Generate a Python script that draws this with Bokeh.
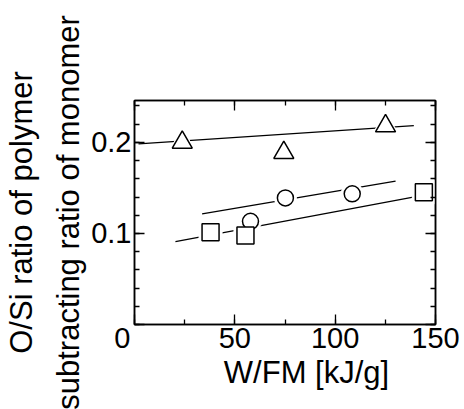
import math
from bokeh.plotting import figure
from bokeh.models import LinearAxis, SingleIntervalTicker, Range1d
from bokeh.embed import file_html
from bokeh.resources import INLINE

# ---- data ----
tri_x = [23.8, 74.4, 125.1]
tri_y = [0.200, 0.1887, 0.218]
cir_x = [57.8, 75.2, 108.5]
cir_y = [0.1133, 0.139, 0.1435]
sq_x = [37.9, 55.3, 144.2]
sq_y = [0.1014, 0.0977, 0.1453]

tri_fit_x = [2.0, 139.2]
tri_fit_y = [0.1984, 0.2185]
cir_fit_x = [33.7, 130.1]
cir_fit_y = [0.1216, 0.1574]
sq_fit_x = [20.4, 144.2]
sq_fit_y = [0.0911, 0.142]

x_lo, x_hi = 0, 150
y_lo, y_hi = 0, 0.246
NB = "\u00a0"
x_title = NB * 5 + "W/FM [kJ/g]"
y_title = "O/Si ratio of polymer\nsubtracting ratio of monomer"

FONT = "Liberation Sans"
TICK_FS = "29px"
TITLE_FS = "31px"

p = figure(width=464, height=409,
           x_range=Range1d(x_lo, x_hi), y_range=Range1d(y_lo, y_hi),
           output_backend="svg", toolbar_location=None,
           min_border_left=134, min_border_right=29,
           min_border_top=100, min_border_bottom=85)
p.xgrid.visible = False
p.ygrid.visible = False
p.outline_line_color = "black"
p.outline_line_width = 1.5
p.background_fill_color = "white"
p.border_fill_color = "white"


def style_axis(ax, ticker, show_labels):
    ax.ticker = ticker
    ax.axis_line_color = "black"
    ax.axis_line_width = 1.5
    ax.major_tick_line_color = "black"
    ax.major_tick_line_width = 1.3
    ax.minor_tick_line_color = "black"
    ax.minor_tick_line_width = 1.3
    ax.major_tick_in = 10
    ax.major_tick_out = 0
    ax.minor_tick_in = 5
    ax.minor_tick_out = 0
    ax.major_label_text_font = FONT
    ax.major_label_text_color = "black"
    if show_labels:
        ax.major_label_text_font_size = TICK_FS
    else:
        ax.major_label_text_font_size = "0px"
    ax.major_label_standoff = 2


xt = SingleIntervalTicker(interval=50, num_minor_ticks=2)
yt = SingleIntervalTicker(interval=0.1, num_minor_ticks=5)

xa = p.xaxis[0]
style_axis(xa, xt, True)
xa.major_label_overrides = {0: "0" + NB * 3}
xa.major_label_standoff = -3
xa.axis_label = x_title
xa.axis_label_text_font = FONT
xa.axis_label_text_font_size = TITLE_FS
xa.axis_label_text_font_style = "normal"
xa.axis_label_text_color = "black"
xa.axis_label_standoff = -2

ya = p.yaxis[0]
style_axis(ya, yt, True)
ya.major_label_overrides = {0: ""}
ya.major_label_standoff = 3
ya.axis_label = y_title
ya.axis_label_text_font = FONT
ya.axis_label_text_font_size = "31px"
ya.axis_label_text_font_style = "normal"
ya.axis_label_text_color = "black"
ya.axis_label_text_line_height = 1.35
ya.axis_label_standoff = 2

top = LinearAxis()
style_axis(top, SingleIntervalTicker(interval=50, num_minor_ticks=2), False)
p.add_layout(top, "above")
right = LinearAxis()
style_axis(right, SingleIntervalTicker(interval=0.1, num_minor_ticks=5), False)
p.add_layout(right, "right")

# fit lines
for fx, fy in [(tri_fit_x, tri_fit_y), (cir_fit_x, cir_fit_y), (sq_fit_x, sq_fit_y)]:
    p.line(fx, fy, line_color="black", line_width=1.3)

# white halos to break lines around markers
p.scatter(tri_x, tri_y, marker="triangle", size=25, fill_color="white", line_color="white")
p.scatter(cir_x, cir_y, marker="circle", size=22, fill_color="white", line_color="white")
p.scatter(sq_x, sq_y, marker="square", size=23, fill_color="white", line_color="white")

# markers
p.scatter(tri_x, tri_y, marker="triangle", size=20, fill_color="white", line_color="black", line_width=1.5)
p.scatter(cir_x, cir_y, marker="circle", size=16, fill_color="white", line_color="black", line_width=1.5)
p.scatter(sq_x, sq_y, marker="square", size=17, fill_color="white", line_color="black", line_width=1.5)

open("out.html", "w").write(file_html(p, INLINE))
